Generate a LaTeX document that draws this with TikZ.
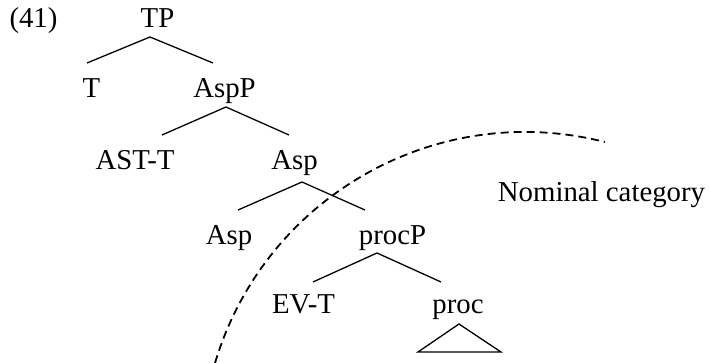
\documentclass[tikz,border=0pt]{standalone}
\usepackage{fontspec}
\setmainfont{Liberation Serif}
\begin{document}
\begin{tikzpicture}[x=1pt,y=1pt,
  lbl/.style={anchor=base,inner sep=0pt,font=\fontsize{28.8}{32}\selectfont},
  branch/.style={line width=1.3pt},
  bound/.style={line width=1.8pt,dash pattern=on 8pt off 5pt}]
\useasboundingbox (0,0) rectangle (710,363);
% labels
\node[lbl] (ex) at (33.5,335) {(41)};
\node[lbl] (TP) at (157.5,335) {TP};
\node[lbl] (T) at (91.5,265) {T};
\node[lbl] (AspP) at (224.5,265) {AspP};
\node[lbl] (AST) at (135,193) {AST-T};
\node[lbl] (Asp) at (294.5,193) {Asp};
\node[lbl] (Asp2) at (229,118) {Asp};
\node[lbl] (procP) at (392.5,118) {procP};
\node[lbl] (EV) at (303.5,49) {EV-T};
\node[lbl] (proc) at (458,49) {proc};
\node[lbl] (nom) at (601.5,161) {Nominal category};
% branch points
\coordinate (TPa) at (150,326);
\coordinate (Ta) at (87,300);
\coordinate (AspPa) at (213,300);
\coordinate (AspPb) at (226,256);
\coordinate (ASTa) at (162,228);
\coordinate (Aspa) at (289,228);
\coordinate (Aspb) at (302,181);
\coordinate (Asp2a) at (238,153);
\coordinate (procPa) at (365,153);
\coordinate (procPb) at (377,110);
\coordinate (EVa) at (313,81);
\coordinate (proca) at (441,81);
\coordinate (procb) at (459,39);
\coordinate (triL) at (418,11);
\coordinate (triR) at (501,11);
\draw[branch] (Ta) -- (TPa) -- (AspPa);
\draw[branch] (ASTa) -- (AspPb) -- (Aspa);
\draw[branch] (Asp2a) -- (Aspb) -- (procPa);
\draw[branch] (EVa) -- (procPb) -- (proca);
\draw[branch] (procb) -- (triL) -- (triR) -- cycle;
% dashed boundary
\coordinate (ctr) at (525,-92.5);
\draw[bound] (ctr) ++(163.4:323.5) arc (163.4:75.7:323.5);
\end{tikzpicture}
\end{document}
